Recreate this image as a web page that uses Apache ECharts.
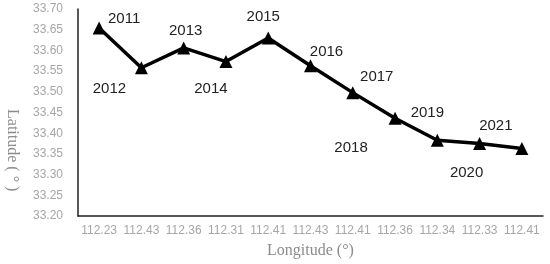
<!DOCTYPE html>
<html>
<head>
<meta charset="utf-8">
<script src="https://cdn.jsdelivr.net/npm/echarts@6/dist/echarts.min.js"></script>
<style>
  html, body { margin: 0; padding: 0; background: #fff; }
  #chart { width: 550px; height: 264px; }
</style>
</head>
<body>
<div id="chart"></div>
<script>
// 经度分类（x 轴）与纬度值
const longitudes = ['112.23', '112.43', '112.36', '112.31', '112.41', '112.43', '112.41', '112.36', '112.34', '112.33', '112.41'];
const latitudes = [33.654, 33.558, 33.606, 33.573, 33.630, 33.563, 33.498, 33.436, 33.383, 33.375, 33.363];
const years = ['2011', '2012', '2013', '2014', '2015', '2016', '2017', '2018', '2019', '2020', '2021'];

// 年份标签相对点的偏移（像素）
const labelOffsets = [
  [25, -9], [-32, 21], [2, -17], [-15, 27], [-5, -21], [16, -14],
  [24, -16], [-44, 30], [-10, -27], [-13, 29], [-26, -23],
];

const chart = echarts.init(document.getElementById('chart'), null, { renderer: 'canvas' });

const points = latitudes.map((v, i) => ({
  value: v,
  label: { offset: labelOffsets[i] },
}));

chart.setOption({
  animation: false,
  backgroundColor: '#fff',
  grid: { left: 78, right: 7, top: 9, bottom: 47 },
  xAxis: {
    type: 'category',
    data: longitudes,
    boundaryGap: true,
    name: 'Longitude (°)',
    nameLocation: 'middle',
    nameGap: 27,
    nameTextStyle: { fontFamily: 'Liberation Serif', fontSize: 16, color: '#8c8c8c' },
    axisLine: { lineStyle: { color: '#222', width: 1.5 } },
    axisTick: { show: false },
    axisLabel: { interval: 0, color: '#a6a6a6', fontSize: 12, fontFamily: 'Liberation Sans', margin: 9 },
  },
  yAxis: {
    type: 'value',
    min: 33.2,
    max: 33.7,
    interval: 0.05,
    axisLine: { show: true, lineStyle: { color: '#222', width: 1.5 } },
    axisTick: { show: false },
    splitLine: { show: false },
    axisLabel: {
      color: '#a6a6a6', fontSize: 12, fontFamily: 'Liberation Sans', margin: 15,
      formatter: (v) => v.toFixed(2),
    },
  },
  graphic: [{
    type: 'text',
    left: 4,
    top: 109,
    rotation: -Math.PI / 2,
    style: {
      text: 'Latitude ( ° )',
      fontFamily: 'Liberation Serif',
      fontSize: 16,
      fill: '#8c8c8c',
    },
  }],
  series: [{
    type: 'line',
    data: points,
    symbol: 'triangle',
    symbolSize: 13,
    lineStyle: { color: '#000', width: 3.5 },
    itemStyle: { color: '#000' },
    label: {
      show: true,
      position: 'inside',
      color: '#222',
      fontSize: 15,
      fontFamily: 'Liberation Sans',
      formatter: (p) => years[p.dataIndex],
    },
  }],
});
</script>
</body>
</html>
